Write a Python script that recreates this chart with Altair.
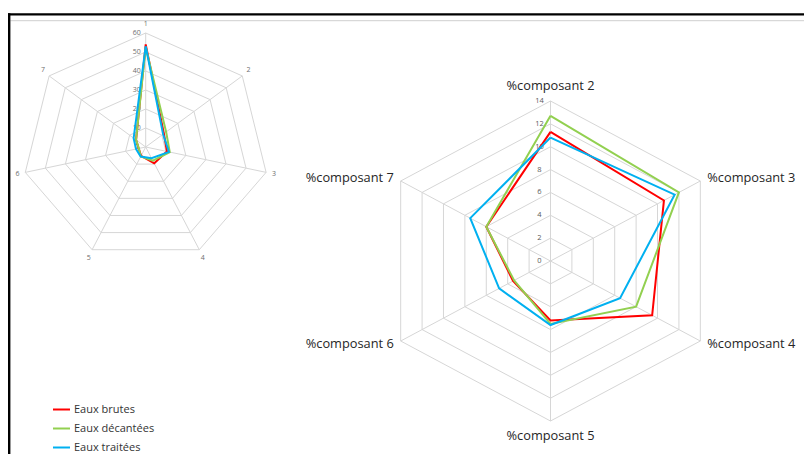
import altair as alt
import numpy as np
import pandas as pd

# ---------------- data ----------------
series_names = ["Eaux brutes", "Eaux décantées", "Eaux traitées"]
series_colors = ["#FF0000", "#92D050", "#00B0F0"]
component_ids = [1, 2, 3, 4, 5, 6, 7]
eaux_brutes = [54.0, 11.3, 10.6, 9.5, 5.2, 3.5, 6.0]
eaux_decantees = [52.5, 12.7, 12.0, 8.0, 5.5, 3.4, 6.0]
eaux_traitees = [53.0, 10.8, 11.6, 6.5, 5.6, 4.8, 7.5]

left_axis_labels = ["1", "2", "3", "4", "5", "6", "7"]
left_ticks = [0, 10, 20, 30, 40, 50, 60]

right_components = [2, 3, 4, 5, 6, 7]
right_axis_labels = ["%composant 2", "%composant 3", "%composant 4",
                     "%composant 5", "%composant 6", "%composant 7"]
right_ticks = [0, 2, 4, 6, 8, 10, 12, 14]

# ---------------- layout (page pixel space) ----------------
LEFT = dict(cx=145.7, cy=147.0, rx=123.5, ry=114.0, vmax=60.0, n=7, tick_dx=-9.0)
RIGHT = dict(cx=550.5, cy=261.0, rx=173.0, ry=160.0, vmax=14.0, n=6, tick_dx=-11.0)

values = {"Eaux brutes": eaux_brutes, "Eaux décantées": eaux_decantees,
          "Eaux traitées": eaux_traitees}


def pos(g, i, v):
    a = 2 * np.pi * i / g["n"]
    return (g["cx"] + v / g["vmax"] * g["rx"] * np.sin(a),
            g["cy"] - v / g["vmax"] * g["ry"] * np.cos(a))


def series_rows(g, comps, chart):
    rows = []
    for s in series_names:
        vals = [values[s][component_ids.index(c)] for c in comps]
        for k in list(range(len(comps))) + [0]:
            x, y = pos(g, k, vals[k])
            rows.append(dict(chart=chart, series=s, order=len(rows), x=x, y=y))
    return rows


def ring_rows(g, ticks, chart):
    rows = []
    for t in ticks:
        if t == 0:
            continue
        for k in list(range(g["n"])) + [0]:
            x, y = pos(g, k, t)
            rows.append(dict(chart=chart, ring=f"{chart}-{t}", order=len(rows), x=x, y=y))
    return rows


def spoke_rows(g):
    rows = []
    for k in range(g["n"]):
        x2, y2 = pos(g, k, g["vmax"])
        rows.append(dict(x=g["cx"], y=g["cy"], x2=x2, y2=y2))
    return rows


def tick_rows(g, ticks):
    rows = []
    for t in ticks:
        x, y = pos(g, 0, t)
        rows.append(dict(x=x + g["tick_dx"], y=y, label=str(t)))
    return rows


series_df = pd.DataFrame(series_rows(LEFT, component_ids, "L") +
                         series_rows(RIGHT, right_components, "R"))
ring_df = pd.DataFrame(ring_rows(LEFT, left_ticks, "L") + ring_rows(RIGHT, right_ticks, "R"))
spoke_df = pd.DataFrame(spoke_rows(LEFT) + spoke_rows(RIGHT))
tick_left_df = pd.DataFrame(tick_rows(LEFT, left_ticks))
tick_right_df = pd.DataFrame(tick_rows(RIGHT, right_ticks))

# category labels
left_lab = []
for k, lab in enumerate(left_axis_labels):
    a = 2 * np.pi * k / LEFT["n"]
    left_lab.append(dict(x=LEFT["cx"] + (LEFT["rx"] + 8) * np.sin(a),
                         y=LEFT["cy"] - (LEFT["ry"] + 9) * np.cos(a), label=lab))
left_lab_df = pd.DataFrame(left_lab)

right_lab = []
for k, lab in enumerate(right_axis_labels):
    a = 2 * np.pi * k / RIGHT["n"]
    s = np.sin(a)
    if abs(s) < 0.01:
        al = "center"
        x = RIGHT["cx"]
        y = RIGHT["cy"] - (RIGHT["ry"] + 15) * np.cos(a)
    else:
        al = "left" if s > 0 else "right"
        x = RIGHT["cx"] + (RIGHT["rx"] + 8) * s
        y = RIGHT["cy"] - (RIGHT["ry"] + 6) * np.cos(a)
    right_lab.append(dict(x=x, y=y, label=lab, align=al))
right_lab_df = pd.DataFrame(right_lab)

# ---------------- chart ----------------
W, H = 796, 446
xs = alt.Scale(domain=[8, 8 + W], range=[0, W], zero=False, nice=False)
ys = alt.Scale(domain=[8, 8 + H], range=[0, H], zero=False, nice=False)
X = lambda f: alt.X(f"{f}:Q", scale=xs, axis=None)
Y = lambda f: alt.Y(f"{f}:Q", scale=ys, axis=None)

GRID = "#d6d6d6"
FONT = "Open Sans"

frame_top = alt.Chart(pd.DataFrame({"a": [0]})).mark_rule(color="black", strokeWidth=2.4).encode(
    x=alt.value(0), x2=alt.value(W), y=alt.value(6.4), y2=alt.value(6.4))
frame_left = alt.Chart(pd.DataFrame({"a": [0]})).mark_rule(color="black", strokeWidth=2.4).encode(
    x=alt.value(1.2), x2=alt.value(1.2), y=alt.value(5.2), y2=alt.value(H))
frame_gray = alt.Chart(pd.DataFrame({"a": [0]})).mark_rule(color="#cfcfcf", strokeWidth=1).encode(
    x=alt.value(2.4), x2=alt.value(W), y=alt.value(12.7), y2=alt.value(12.7))

rings = alt.Chart(ring_df).mark_line(color=GRID, strokeWidth=1).encode(
    x=X("x"), y=Y("y"), detail="ring:N", order="order:Q")
spokes = alt.Chart(spoke_df).mark_rule(color=GRID, strokeWidth=1).encode(
    x=X("x"), y=Y("y"), x2="x2:Q", y2="y2:Q")

ticks_l = alt.Chart(tick_left_df).mark_text(font=FONT, fontSize=7, color="#6e6e6e",
                                            align="center", baseline="middle").encode(
    x=X("x"), y=Y("y"), text="label:N")
ticks_r = alt.Chart(tick_right_df).mark_text(font=FONT, fontSize=7.5, color="#5a5a5a",
                                             align="center", baseline="middle").encode(
    x=X("x"), y=Y("y"), text="label:N")

labs_l = alt.Chart(left_lab_df).mark_text(font=FONT, fontSize=7, color="#6e6e6e",
                                          align="center", baseline="middle").encode(
    x=X("x"), y=Y("y"), text="label:N")


def rlab(al):
    return alt.Chart(right_lab_df).transform_filter(alt.datum.align == al).mark_text(
        font=FONT, fontSize=12.8, color="#262626", align=al, baseline="middle").encode(
        x=X("x"), y=Y("y"), text="label:N")


lines = alt.Chart(series_df).mark_line(strokeWidth=2, strokeJoin="miter").encode(
    x=X("x"), y=Y("y"),
    detail="chart:N",
    order="order:Q",
    color=alt.Color("series:N",
                    scale=alt.Scale(domain=series_names, range=series_colors),
                    sort=series_names,
                    legend=alt.Legend(orient="none", legendX=44, legendY=392, title=None,
                                      symbolType="stroke", symbolSize=289,
                                      symbolStrokeWidth=2, labelFontSize=11,
                                      labelFont=FONT, labelColor="#333333",
                                      rowPadding=4, padding=0, labelOffset=3)),
)

chart = alt.layer(
    frame_gray, frame_top, frame_left,
    rings, spokes,
    ticks_l, ticks_r, labs_l,
    rlab("center"), rlab("left"), rlab("right"),
    lines,
).properties(
    width=W, height=H, padding=0, autosize="none", background="white"
).configure_view(stroke=None)

chart.save("out.html", embed_options={"renderer": "svg", "actions": False})
